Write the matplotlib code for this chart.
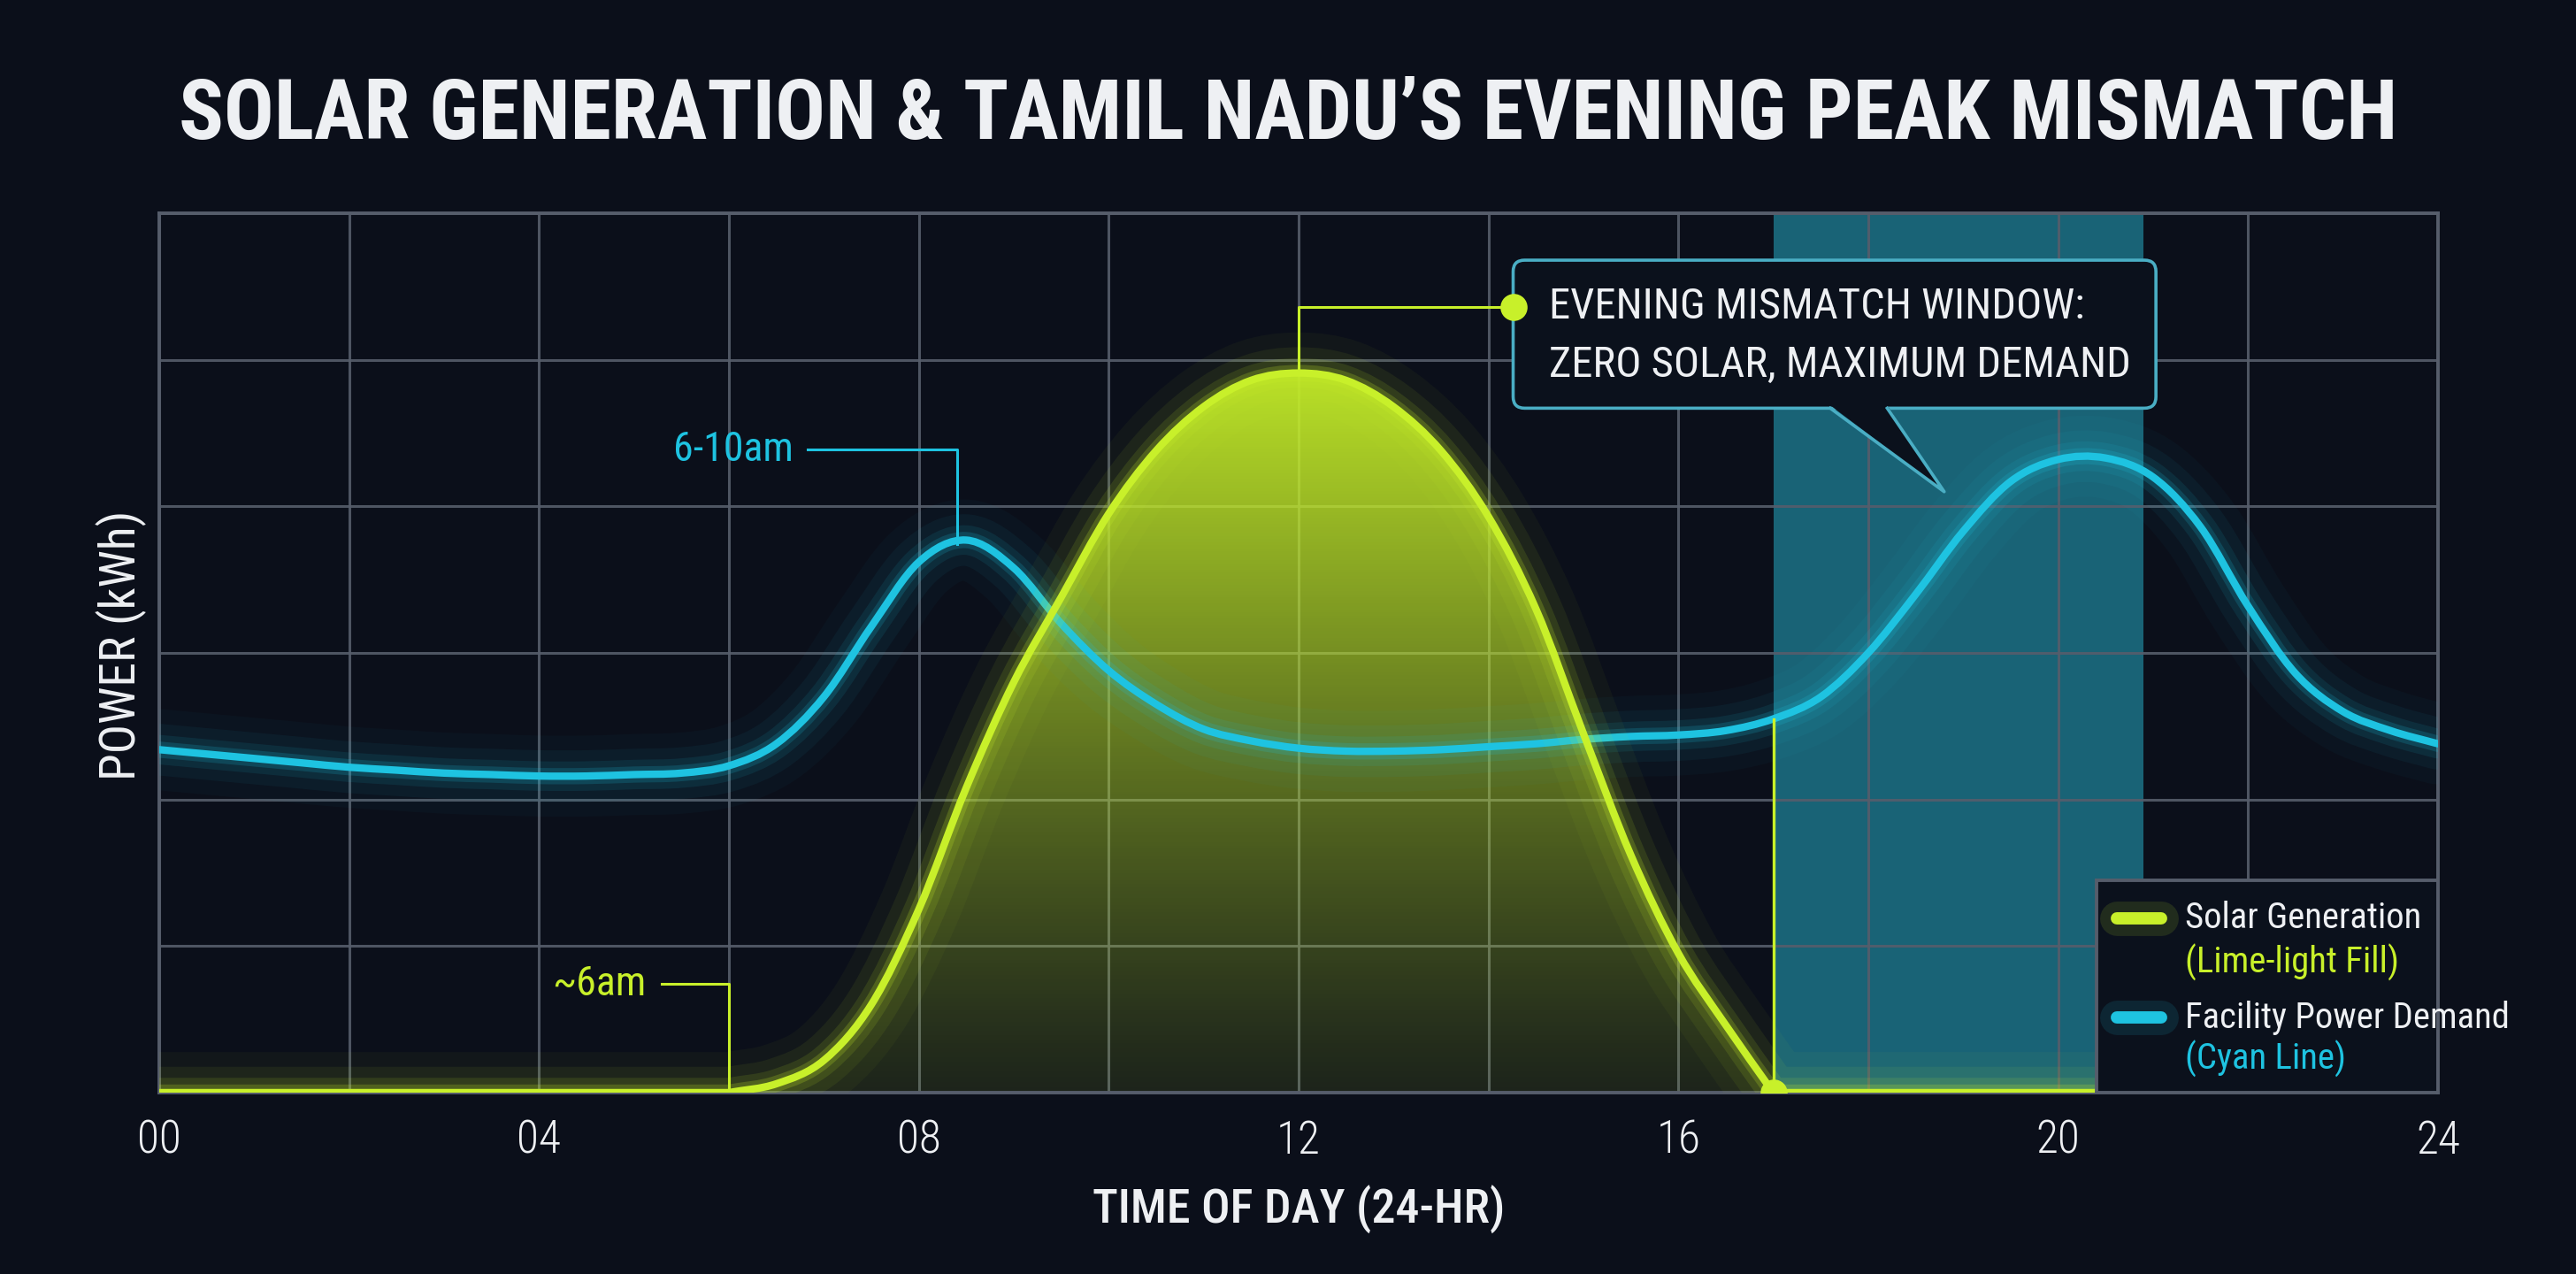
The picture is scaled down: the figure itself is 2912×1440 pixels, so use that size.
import numpy as np
import matplotlib
matplotlib.use("Agg")
import matplotlib.pyplot as plt
from matplotlib import font_manager
from matplotlib.path import Path
from matplotlib.patches import FancyBboxPatch, Rectangle, Polygon, PathPatch

# Hours of the day (every half hour)
hours = np.arange(0, 24.5, 0.5)

# Solar generation (arbitrary kWh units)
solar = [
    0, 0, 0, 0, 0, 0, 0, 0, 0, 0, 0, 0,          # 00:00 - 05:30
    0, 0.06, 0.22, 0.60, 1.25, 2.08, 2.80, 3.38,  # 06:00 - 09:30
    3.95, 4.38, 4.68, 4.86, 4.91, 4.86, 4.68, 4.38,  # 10:00 - 13:30
    3.93, 3.30, 2.45, 1.62, 0.95, 0.46, 0,        # 14:00 - 17:00
    0, 0, 0, 0, 0, 0, 0, 0, 0, 0, 0, 0, 0, 0,    # 17:30 - 24:00
]

# Facility power demand
demand = [
    2.34, 2.31, 2.28, 2.25, 2.22, 2.20, 2.18, 2.17, 2.16, 2.16, 2.17, 2.18,
    2.23, 2.38, 2.70, 3.18, 3.62, 3.77, 3.58, 3.20, 2.88, 2.65, 2.48, 2.40,
    2.35, 2.33, 2.33, 2.34, 2.36, 2.38, 2.41, 2.43, 2.44, 2.47, 2.55, 2.70,
    3.00, 3.40, 3.83, 4.17, 4.32, 4.33, 4.20, 3.86, 3.32, 2.86, 2.60, 2.47,
    2.38,
]

tick_hours = [0, 4, 8, 12, 16, 20, 24]
tick_labels = ["00", "04", "08", "12", "16", "20", "24"]

# Evening mismatch window
window_start, window_end = 17.0, 20.9
morning_peak_hour = 8.4
solar_start_hour = 6.0
solar_peak_hour = 12.0

title = "SOLAR GENERATION & TAMIL NADU\u2019S EVENING PEAK MISMATCH"

# Colours
bg = "#0b0f1a"
grid_col = "#565d6b"
lime = "#c8f02a"
cyan = "#1ec3e1"
text_col = "#eef0f3"


def pick_font(names):
    """Return the first installed font family from names."""
    for n in names:
        try:
            font_manager.findfont(font_manager.FontProperties(family=n), fallback_to_default=False)
            return n
        except ValueError:
            pass
    return "DejaVu Sans"


cond = pick_font(["Roboto Condensed", "Liberation Sans Narrow", "Open Sans Condensed"])
plt.rcParams["font.family"] = [cond, "DejaVu Sans"]


def smooth_path(x, y, floor=None):
    """Smooth bezier path through the points; keeps a corner where a curve meets the floor."""
    x = np.asarray(x, float)
    y = np.asarray(y, float)
    n = len(x)
    h = x[1] - x[0]
    sec = np.diff(y) / h
    m_in = np.zeros(n)
    m_out = np.zeros(n)
    for i in range(n):
        left = sec[i - 1] if i > 0 else sec[0]
        right = sec[i] if i < n - 1 else sec[-1]
        m_in[i] = m_out[i] = (left + right) / 2
        if floor is not None and y[i] == floor:
            if i < n - 1 and y[i + 1] == floor:
                m_out[i] = 0
                m_in[i] = 0 if (i == 0 or y[i - 1] == floor) else left
            if i > 0 and y[i - 1] == floor:
                m_in[i] = 0
                m_out[i] = 0 if (i == n - 1 or y[i + 1] == floor) else right
    verts, codes = [(x[0], y[0])], [Path.MOVETO]
    for i in range(n - 1):
        c1 = (x[i] + h / 3, y[i] + m_out[i] * h / 3)
        c2 = (x[i + 1] - h / 3, y[i + 1] - m_in[i + 1] * h / 3)
        if floor is not None:
            c1 = (c1[0], max(c1[1], floor))
            c2 = (c2[0], max(c2[1], floor))
        verts += [c1, c2, (x[i + 1], y[i + 1])]
        codes += [Path.CURVE4] * 3
    return Path(verts, codes)


def glow_path(ax, path, color, lw, z, strength=1.0):
    """Draw a path with a soft neon glow under it."""
    for w, a in [(lw * 11, 0.03), (lw * 7, 0.05), (lw * 4, 0.09), (lw * 2.2, 0.16)]:
        ax.add_patch(PathPatch(path, fill=False, edgecolor=color, lw=w, alpha=min(a * strength, 1),
                               capstyle="round", joinstyle="round", zorder=z))
    ax.add_patch(PathPatch(path, fill=False, edgecolor=color, lw=lw, capstyle="round",
                           joinstyle="round", zorder=z + 0.1))


fig = plt.figure(figsize=(14.56, 7.2), dpi=200, facecolor=bg)
ax = fig.add_axes([0.0618, 0.1424, 0.8846, 0.6902])
ax.set_facecolor(bg)
ax.set_xlim(0, 24)
ax.set_ylim(0, 6)

# grid
ax.set_xticks(np.arange(0, 25, 2))
ax.set_yticks(np.arange(0, 7, 1))
ax.grid(True, color=grid_col, lw=1.1, alpha=0.9, zorder=0)
ax.tick_params(length=0, labelleft=False, labelbottom=False)
for s in ax.spines.values():
    s.set_color(grid_col)
    s.set_linewidth(1.4)
for hr, lab in zip(tick_hours, tick_labels):
    ax.text(hr, -0.33, lab, ha="center", va="center", color=text_col, fontsize=18.5,
            fontweight="light", clip_on=False)

# evening window band
ax.axvspan(window_start, window_end, color="#249cb4", alpha=0.6, lw=0, zorder=1)

sol = np.array(solar)
dem = np.array(demand)
sol_path = smooth_path(hours, sol, floor=0)
dem_path = smooth_path(hours, dem)

# solar gradient fill
fill_path = Path(np.vstack([sol_path.vertices, sol_path.vertices[:1]]),
                 list(sol_path.codes) + [Path.CLOSEPOLY])
clip = PathPatch(fill_path, transform=ax.transData, facecolor="none", edgecolor="none")
ax.add_patch(clip)
g = np.linspace(0, 1, 256).reshape(-1, 1)
rgba = np.zeros((256, 1, 4))
rgba[..., 0] = 0.78
rgba[..., 1] = 0.94
rgba[..., 2] = 0.16
rgba[..., 3] = 0.10 + 0.84 * g ** 1.15
im = ax.imshow(rgba, extent=[0, 24, 0, sol.max()], origin="lower", aspect="auto", zorder=2,
               interpolation="bilinear")
im.set_clip_path(clip)

# lines
glow_path(ax, dem_path, cyan, 3.0, 3, strength=1.1)
glow_path(ax, sol_path, lime, 3.0, 4, strength=1.3)

# solar stop marker at window start
ax.plot([window_start, window_start], [0, np.interp(window_start, hours, dem)],
        color=lime, lw=1.2, zorder=4.5)
ax.plot(window_start, 0, "o", ms=10, color=lime, zorder=6)

# "~6am" annotation
ax.plot([5.29, solar_start_hour, solar_start_hour], [0.74, 0.74, 0], color=lime, lw=1.1, zorder=5)
ax.text(5.13, 0.74, "~6am", ha="right", va="center", color=lime, fontsize=16.5)

# "6-10am" annotation
mp = np.interp(morning_peak_hour, hours, dem)
ax.plot([6.83, morning_peak_hour, morning_peak_hour], [4.39, 4.39, mp], color=cyan, lw=1.1, zorder=5)
ax.text(6.68, 4.39, "6-10am", ha="right", va="center", color=cyan, fontsize=16.5)

# callout box
box_x0, box_x1, box_y0, box_y1 = 14.26, 21.03, 4.67, 5.68
box_edge = "#4aaec4"
box_fc = "#0b111c"
aspect = (6 / 994) / (24 / 2576)
box = FancyBboxPatch((box_x0, box_y0), box_x1 - box_x0, box_y1 - box_y0,
                     boxstyle="round,pad=0,rounding_size=0.12", mutation_aspect=aspect,
                     facecolor=box_fc, edgecolor=box_edge, lw=1.3, zorder=7)
ax.add_patch(box)
tip = (18.8, 4.1)
base_l, base_r = 17.6, 18.2
ax.add_patch(Polygon([(base_l, box_y0 + 0.02), (base_r, box_y0 + 0.02), tip], closed=True,
                     facecolor=box_fc, edgecolor="none", zorder=7.5))
ax.plot([base_l, tip[0], base_r], [box_y0, tip[1], box_y0], color=box_edge, lw=1.3, zorder=7.6)
sp = np.interp(solar_peak_hour, hours, sol)
ax.plot([solar_peak_hour, solar_peak_hour, box_x0], [sp, 5.36, 5.36], color=lime, lw=1.1, zorder=5)
ax.plot(box_x0, 5.36, "o", ms=10, color=lime, zorder=8)
ax.text(14.64, 5.36, "EVENING MISMATCH WINDOW:", ha="left", va="center", color=text_col,
        fontsize=17.5, zorder=8)
ax.text(14.64, 4.96, "ZERO SOLAR, MAXIMUM DEMAND", ha="left", va="center", color=text_col,
        fontsize=17.5, zorder=8)

# legend panel
ax.add_patch(Rectangle((20.4, 0), 3.6, 1.45, facecolor=box_fc, edgecolor=grid_col, lw=1.4, zorder=9))
for y_line, y_sub, color, name, sub in [(1.19, 0.89, lime, "Solar Generation", "(Lime-light Fill)"),
                                        (0.51, 0.23, cyan, "Facility Power Demand", "(Cyan Line)")]:
    ax.plot([20.62, 21.08], [y_line, y_line], color=color, lw=5, solid_capstyle="round", zorder=10)
    ax.plot([20.62, 21.08], [y_line, y_line], color=color, lw=14, alpha=0.12, solid_capstyle="round",
            zorder=9.5)
    ax.text(21.34, y_line, name, ha="left", va="center", color=text_col, fontsize=14.7, zorder=10)
    ax.text(21.34, y_sub, sub, ha="left", va="center", color=color, fontsize=14.7, zorder=10)

# axis labels
ax.text(12, -0.8, "TIME OF DAY (24-HR)", ha="center", va="center", color=text_col, fontsize=19.5,
        fontweight="medium")
ax.text(-0.4, 3.05, "POWER (kWh)", ha="center", va="center", rotation=90, color=text_col, fontsize=20)

# title, sized to the reference width
t = fig.text(0.5, 1 - 131 / 1440, title, ha="center", va="center", color=text_col,
             fontsize=41, fontweight="bold")
fig.canvas.draw()
w = t.get_window_extent().width
t.set_fontsize(41 * 2510 / w)

fig.savefig("out.png", dpi=200, facecolor=bg)
